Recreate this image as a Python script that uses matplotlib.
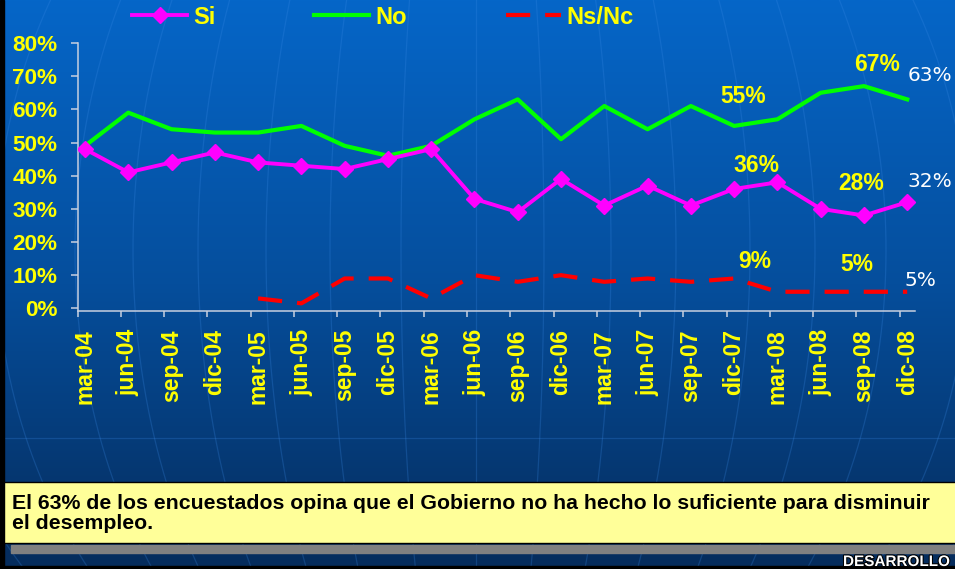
import numpy as np
import matplotlib
matplotlib.use("Agg")
import matplotlib.pyplot as plt
from matplotlib.ticker import MultipleLocator, FixedLocator, FuncFormatter
from matplotlib.colors import LinearSegmentedColormap
from matplotlib.patches import Rectangle
import matplotlib.patheffects as pe

# ---------------- data ----------------
categories = ["mar-04", "jun-04", "sep-04", "dic-04",
              "mar-05", "jun-05", "sep-05", "dic-05",
              "mar-06", "jun-06", "sep-06", "dic-06",
              "mar-07", "jun-07", "sep-07", "dic-07",
              "mar-08", "jun-08", "sep-08", "dic-08"]
si = [48, 41, 44, 47, 44, 43, 42, 45, 48, 33, 29, 39, 31, 37, 31, 36, 38, 30, 28, 32]
no = [49, 59, 54, 53, 53, 55, 49, 46, 49, 57, 63, 51, 61, 54, 61, 55, 57, 65, 67, 63]
nsnc = [np.nan, np.nan, np.nan, np.nan, 3, 1.5, 9, 9, 3, 10, 8, 10, 8, 9, 8, 9, 5, 5, 5, 5]
series_names = ["Si", "No", "Ns/Nc"]
y_ticks = [0, 10, 20, 30, 40, 50, 60, 70, 80]
# annotated points: (series index, category index, style, offset px)
annotations = [(1, 15, "y", (9, 29)), (1, 18, "y", (13, 22)), (1, 19, "w", (23, 24)),
               (0, 15, "y", (22, 23)), (0, 18, "y", (-3, 32)), (0, 19, "w", (23, 21)),
               (2, 15, "y", (21, 17)), (2, 18, "y", (-7, 27)), (2, 19, "w", (13, 11))]
footnote_lines = ["El 63% de los encuestados opina que el Gobierno no ha hecho lo suficiente para disminuir",
                  "el desempleo."]
brand = "DESARROLLO"

W, H = 955, 569
fig = plt.figure(figsize=(W / 100, H / 100), dpi=100)

# ---------------- background ----------------
bg = fig.add_axes([0, 0, 1, 1], zorder=-10)
cmap = LinearSegmentedColormap.from_list("bg", ["#0566C8", "#064E9C", "#052C5C"])
grad = np.linspace(0, 1, 256).reshape(-1, 1)
bg.imshow(grad, cmap=cmap, aspect="auto", extent=[0, W, H, 0])
bg.set_xlim(0, W)
bg.set_ylim(H, 0)
bg.axis("off")

# decorative globe meridians
yy = np.linspace(0, H, 200)
g = np.sqrt(np.clip(1 - ((yy - 250) / 540) ** 2, 0, None))
for D in [-560, -480, -401, -343, -278, -210, -146, -75, 0, 68, 135, 200, 274, 339, 410, 493, 570]:
    bg.plot(476 + D * g, yy, color="#3A8AE6", lw=0.9, alpha=0.25)
bg.plot([0, W], [438, 438], color="#3A8AE6", lw=0.9, alpha=0.25)

bg.add_patch(Rectangle((0, 0), 4, H, color="black", zorder=3))
bg.add_patch(Rectangle((0, 566), W, 3, color="black", zorder=3))
bg.add_patch(Rectangle((11, 545), W - 11, 8, color="#808080", zorder=3))
bg.add_patch(Rectangle((4, 482), W - 3, 61, facecolor="#FFFF99", edgecolor="black", lw=1, zorder=3))
for line, yb in zip(footnote_lines, [509, 529]):
    bg.text(12, yb, line, fontsize=15.3, fontweight="bold", family="Liberation Sans",
            color="black", va="baseline", ha="left", zorder=4)
bg.text(843, 566, brand, fontsize=11, fontweight="bold", family="Liberation Sans",
        color="white", va="baseline", ha="left", zorder=4,
        path_effects=[pe.withStroke(linewidth=1.5, foreground="black")])

# ---------------- chart ----------------
left, right, top, bottom = 77.5, 915, 43, 311
ax = fig.add_axes([left / W, 1 - bottom / H, (right - left) / W, (bottom - top) / H])
ax.set_facecolor("none")
x = np.arange(len(categories))

l_si, = ax.plot(x, si, color="#FF00FF", lw=2.8, marker="D", markersize=7.8,
                markeredgecolor="#FF00FF", label=series_names[0], zorder=4)
l_no, = ax.plot(x, no, color="#00FF00", lw=3.0, label=series_names[1], zorder=3)
l_ns, = ax.plot(x, nsnc, color="#FF0000", lw=3.0, dashes=(5.8, 3.6), label=series_names[2], zorder=3)

ax.set_xlim(-0.173, len(categories) - 1 + 0.18)
ax.set_ylim(-0.8, 80)

ax.set_yticks(y_ticks)
ax.yaxis.set_major_formatter(FuncFormatter(lambda v, p: f"{v:.0f}%"))
ax.yaxis.set_minor_locator(MultipleLocator(20))
ax.grid(axis="y", which="minor", color="#3D88DC", lw=1.3, alpha=0.75)
ax.tick_params(axis="y", which="minor", length=0)
ax.tick_params(axis="y", which="major", length=5, width=1.1, color="#C8D0E0", pad=9.5,
               labelsize=16.2, labelcolor="#FFFF00")
for t in ax.get_yticklabels():
    t.set_fontweight("bold")
    t.set_family("Liberation Sans")

ax.set_xticks(x)
ax.set_xticklabels(categories, rotation=90, fontsize=16.5, fontweight="bold",
                   family="Liberation Sans", color="#FFFF00")
ax.xaxis.set_minor_locator(FixedLocator(x - 0.173))
ax.tick_params(axis="x", which="major", length=0, pad=13)
ax.tick_params(axis="x", which="minor", length=4.5, width=1.1, color="#C8D0E0")

for s in ["top", "right"]:
    ax.spines[s].set_visible(False)
for s in ["left", "bottom"]:
    ax.spines[s].set_color("#C8D0E0")
    ax.spines[s].set_linewidth(1.1)

styles = {"y": dict(color="#FFFF00", fontsize=16.5, fontweight="bold", family="Liberation Sans"),
          "w": dict(color="white", fontsize=14.5, fontweight="normal", family="DejaVu Sans")}
series = [si, no, nsnc]
for s_idx, ci, st, (dx, dy) in annotations:
    v = series[s_idx][ci]
    ax.annotate(f"{v:.0f}%", (ci, v), xytext=(dx * 0.72, dy * 0.72), textcoords="offset points",
                ha="center", va="center", zorder=6, **styles[st])

# legend
fig.legend(handles=[l_si, l_no, l_ns], loc="center left",
           bbox_to_anchor=(132 / W, 1 - 17 / H), ncol=3, frameon=False,
           prop={"family": "Liberation Sans", "weight": "bold", "size": 17},
           labelcolor="#FFFF00", handlelength=2.33, handletextpad=0.25,
           columnspacing=4.2, borderpad=0, borderaxespad=0, numpoints=1)

fig.savefig("out.png", dpi=100)
